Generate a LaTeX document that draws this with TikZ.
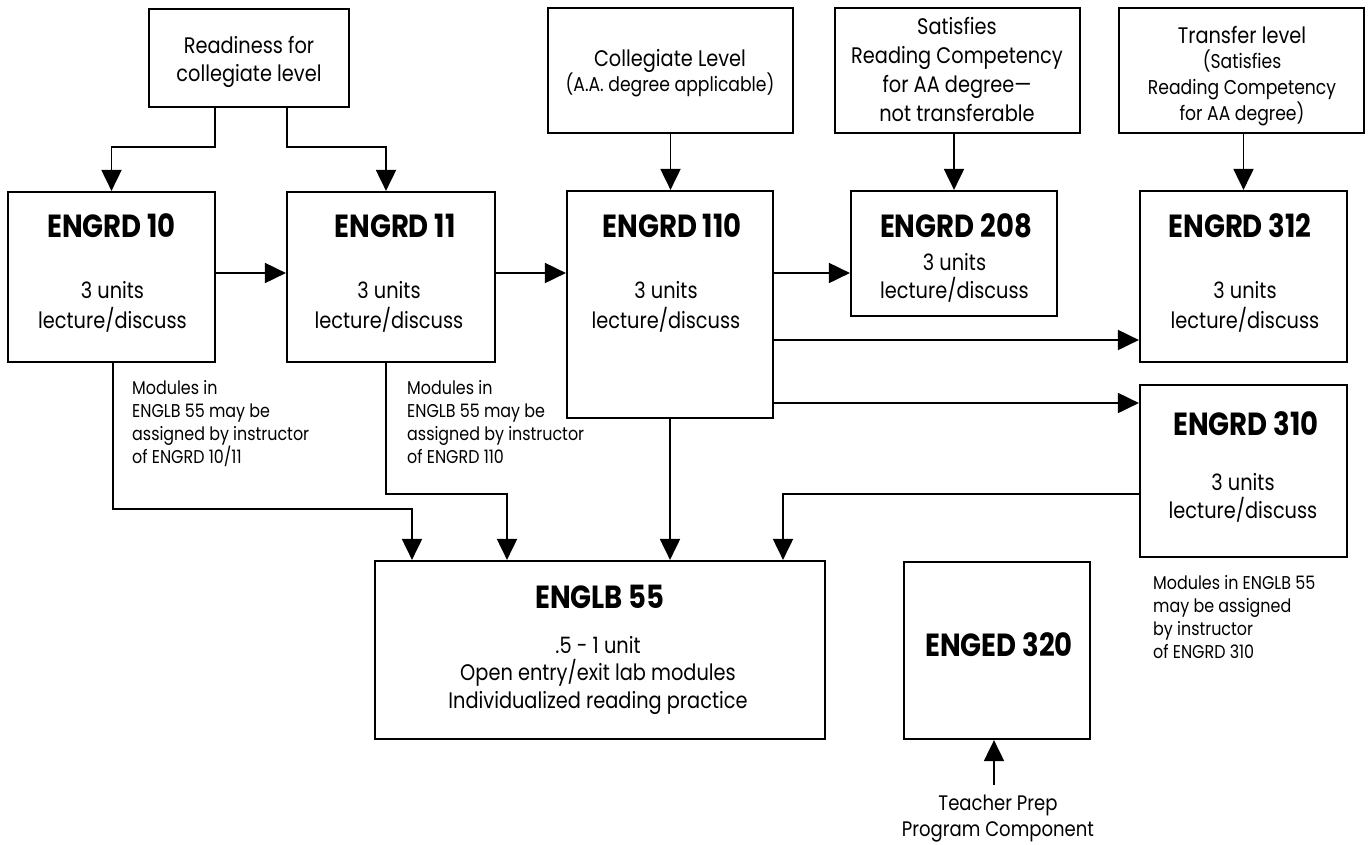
\documentclass[tikz,border=0pt]{standalone}
\usepackage{fontspec}
\setmainfont{Poppins}[FakeStretch=0.86]
\usetikzlibrary{arrows.meta}
\begin{document}
\begin{tikzpicture}[x=1pt,y=-1pt,
  box/.style={draw, line width=2.2pt, inner sep=0pt, anchor=center},
  arr/.style={-{Triangle[length=21pt,width=20pt]}, line width=1.9pt},
  ttl/.style={font=\fontsize{32}{33}\selectfont\bfseries, anchor=base, inner sep=0pt},
  bod/.style={font=\fontsize{22.5}{29}\selectfont, anchor=base, align=center, inner sep=0pt},
  sml/.style={font=\fontsize{20}{25.7}\selectfont, anchor=base, align=center, inner sep=0pt},
  ann/.style={font=\fontsize{18.5}{22.7}\selectfont, anchor=base west, align=left, inner sep=0pt}]
\useasboundingbox (0,0) rectangle (1372,844);
% boxes
\node[box, minimum width=200pt, minimum height=98pt] (R) at (249,58) {};
\node[box, minimum width=245pt, minimum height=125pt] (C) at (670.5,70.5) {};
\node[box, minimum width=245pt, minimum height=125pt] (S) at (957.5,70.5) {};
\node[box, minimum width=245pt, minimum height=125pt] (T) at (1241.5,70.5) {};
\node[box, minimum width=207pt, minimum height=170pt] (e10) at (111.5,277) {};
\node[box, minimum width=208pt, minimum height=170pt] (e11) at (391,277) {};
\node[box, minimum width=206pt, minimum height=227pt] (e110) at (670,304.5) {};
\node[box, minimum width=206pt, minimum height=125pt] (e208) at (954,253.5) {};
\node[box, minimum width=207pt, minimum height=171pt] (e312) at (1243.5,276.5) {};
\node[box, minimum width=207pt, minimum height=172pt] (e310) at (1243.5,471) {};
\node[box, minimum width=450pt, minimum height=178pt] (L) at (600,650) {};
\node[box, minimum width=186pt, minimum height=177pt] (E320) at (997,650.5) {};
% top box texts (anchor base = last line)
\node[bod, font=\fontsize{22.5}{28}\selectfont] (Rt) at (249,81) {Readiness for\\collegiate level};
\node[bod] (Ct1) at (670,66) {Collegiate Level};
\node[sml] (Ct2) at (670,91) {(A.A. degree applicable)};
\node[bod, font=\fontsize{22.5}{28.7}\selectfont] (St) at (957,121) {Satisfies\\Reading Competency\\for AA degree—\\not transferable};
\node[bod] (Tt1) at (1242,43) {Transfer level};
\node[sml] (Tt2) at (1242,120) {(Satisfies\\Reading Competency\\for AA degree)};
% course titles
\node[ttl] (t10) at (111.5,237) {ENGRD 10};
\node[ttl] (t11) at (395,237) {ENGRD 11};
\node[ttl] (t110) at (672,237) {ENGRD 110};
\node[ttl] (t208) at (956,237) {ENGRD 208};
\node[ttl] (t312) at (1240,237) {ENGRD 312};
\node[ttl] (t310) at (1246,435) {ENGRD 310};
\node[ttl] (tL) at (600,608) {ENGLB 55};
\node[ttl] (tE) at (999,656) {ENGED 320};
% course bodies
\node[bod, font=\fontsize{22.5}{30}\selectfont] (b10) at (112.5,328) {3 units\\lecture/discuss};
\node[bod, font=\fontsize{22.5}{30}\selectfont] (b11) at (389,328) {3 units\\lecture/discuss};
\node[bod, font=\fontsize{22.5}{30}\selectfont] (b110) at (666,328) {3 units\\lecture/discuss};
\node[bod, font=\fontsize{22.5}{28}\selectfont] (b208) at (954.5,298) {3 units\\lecture/discuss};
\node[bod, font=\fontsize{22.5}{30}\selectfont] (b312) at (1245,328) {3 units\\lecture/discuss};
\node[bod, font=\fontsize{22.5}{28}\selectfont] (b310) at (1243,518) {3 units\\lecture/discuss};
\node[bod, font=\fontsize{22.5}{27.5}\selectfont] (bL) at (598,708) {.5 - 1 unit\\Open entry/exit lab modules\\Individualized reading practice};
% annotations
\node[ann] (a1) at (132,463) {Modules in\\ENGLB 55 may be\\assigned by instructor\\of ENGRD 10/11};
\node[ann] (a2) at (407,463) {Modules in\\ENGLB 55 may be\\assigned by instructor\\of ENGRD 110};
\node[ann] (a3) at (1153,658) {Modules in ENGLB 55\\may be assigned\\by instructor\\of ENGRD 310};
\node[bod, font=\fontsize{21}{26}\selectfont] (tp) at (998,836) {Teacher Prep\\Program Component};
\coordinate (tpa) at (994,785);
% connectors
\draw[arr] ([xshift=-34pt]R.south) -- ++(0,39) -| (e10.north);
\draw[arr] ([xshift=38pt]R.south) -- ++(0,39) -| ([xshift=-5pt]e11.north);
\draw[arr] ([yshift=4pt]e10.east) -- ([yshift=4pt]e10.east -| e11.west);
\draw[arr] (e11.east |- 0,273) -- (e110.west |- 0,273);
\draw[arr] (e110.east |- 0,273) -- (e208.west |- 0,273);
\draw[arr] (e110.east |- 0,340) -- (e312.west |- 0,340);
\draw[arr] (e110.east |- 0,403) -- (e310.west |- 0,403);
\draw[arr] (C.south) -- (C.south |- e110.north);
\draw[arr] (e208.north |- S.south) -- (e208.north);
\draw[arr] (e312.north |- T.south) -- (e312.north);
\draw[arr] ([xshift=1.5pt]e10.south) -- ++(0,146) -| ([xshift=-188pt]L.north);
\draw[arr] ([xshift=-5pt]e11.south) -- ++(0,131) -| ([xshift=-93pt]L.north);
\draw[arr] (e110.south) -- (e110.south |- L.north);
\draw[arr] (e310.west |- 0,494) -| ([xshift=183pt]L.north);
\draw[arr] (tpa) -- (tpa |- E320.south);
\end{tikzpicture}
\end{document}
